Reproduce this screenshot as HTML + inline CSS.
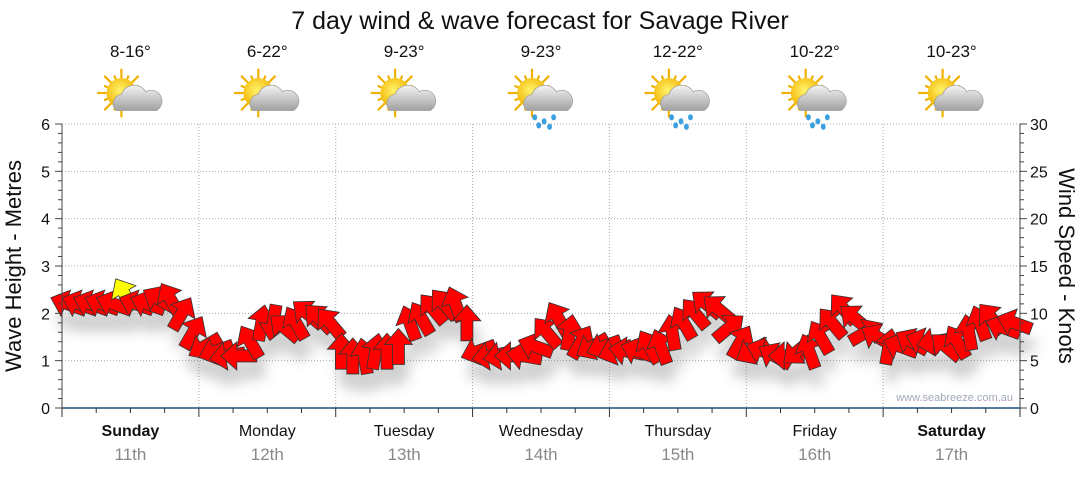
<!DOCTYPE html>
<html><head><meta charset="utf-8">
<style>
body{margin:0;background:#fff;width:1080px;height:475px;overflow:hidden;font-family:"Liberation Sans",sans-serif;}
svg text{font-family:"Liberation Sans",sans-serif;}
</style></head>
<body>
<svg id="chart" width="1080" height="475" viewBox="0 0 1080 475" xmlns="http://www.w3.org/2000/svg">
<defs>
<filter id="blur" x="-50%" y="-50%" width="200%" height="200%"><feGaussianBlur stdDeviation="6"/></filter>
<radialGradient id="sun" cx="0.45" cy="0.4" r="0.6"><stop offset="0" stop-color="#fff36b"/><stop offset="1" stop-color="#f2b300"/></radialGradient>
<linearGradient id="cloud" x1="0" y1="0" x2="0" y2="1"><stop offset="0" stop-color="#f4f4f4"/><stop offset="1" stop-color="#a0a0a0"/></linearGradient>
</defs>
<text x="540" y="29" text-anchor="middle" font-size="25" fill="#111">7 day wind &amp; wave forecast for Savage River</text>
<g id="grid"></g>
<g id="shadows" filter="url(#blur)" opacity="0.3"></g>
<g id="arrows"></g>
<g id="axes"></g>
<g id="header"></g>
<text transform="translate(21,266) rotate(-90)" text-anchor="middle" font-size="22" fill="#111">Wave Height - Metres</text>
<text transform="translate(1059,266) rotate(90)" text-anchor="middle" font-size="22" fill="#111">Wind Speed - Knots</text>
<text x="1013" y="401" text-anchor="end" font-size="11" fill="#a0a8b8">www.seabreeze.com.au</text>
</svg>
<script>
const days = ["Sunday","Monday","Tuesday","Wednesday","Thursday","Friday","Saturday"];
const dates = ["11th","12th","13th","14th","15th","16th","17th"];
const boldDays = [true,false,false,false,false,false,true];
const temps = ["8-16°","6-22°","9-23°","9-23°","12-22°","10-22°","10-23°"];
const rainy = [false,false,false,true,true,true,false];
const leftTicks = [0,1,2,3,4,5,6];
const rightTicks = [0,5,10,15,20,25,30];
const windSpeed = [
11,11,11,11,11,12,11,11,11.5,11.5,10,8,
6.5,6,5.5,5.5,7,9,9,8.5,9,10,9.5,9,
6,5.5,5.5,6,6,6.5,9,9.5,10.5,11,11,9,
6,5.5,5.5,5.5,5.5,6.5,8,9.5,8,7,6.5,6.5,
6,6,6,6.5,6.5,8,9,10,11,10.5,8.5,7,
6,6,5.5,5.5,6,6,7.5,9,10.5,9.5,8,7.5,
6.5,6.5,7,7,7,6.5,7,8,9,9.5,8.5,9];
const windDir = [
200,200,200,200,200,240,200,200,210,240,300,300,
150,160,170,180,240,280,100,220,240,220,225,230,
270,270,260,280,270,270,250,240,230,230,250,270,
160,170,170,180,190,200,230,240,280,300,150,160,
160,190,200,240,250,260,240,230,220,220,320,300,
150,200,210,180,140,250,240,230,230,220,330,210,
280,200,210,200,170,220,240,260,250,230,200,200];
const gustFlag = [5];

const NS="http://www.w3.org/2000/svg";
const X0=62,X1=1020,Y0=408,Y1=124;
const dayW=(X1-X0)/7;
const yL=v=>Y0-(v/6)*(Y0-Y1);
const yR=v=>Y0-(v/30)*(Y0-Y1);
const xT=i=>X0+(i+0.5)*dayW/12;
function mk(tag,attrs,parent){const e=document.createElementNS(NS,tag);for(const k in attrs)e.setAttribute(k,attrs[k]);parent.appendChild(e);return e;}
const grid=document.getElementById('grid'),axes=document.getElementById('axes'),hdr=document.getElementById('header');
leftTicks.forEach(v=>{if(v>0){const l=mk('line',{x1:X0,x2:X1,y1:yL(v),y2:yL(v),stroke:'#aaa','stroke-dasharray':'1,2'},grid);

}
const t=mk('text',{x:50,y:yL(v)+6,'text-anchor':'end','font-size':16,fill:'#111'},axes);t.textContent=v;

});
rightTicks.forEach(v=>{const t=mk('text',{x:1030,y:yR(v)+6,'font-size':16,fill:'#111'},axes);t.textContent=v;

});
for(let i=0;i<=30;i++){const y=Y0-i*(Y0-Y1)/30;mk('line',{x1:X0-(i%5?4:7),x2:X0,y1:y,y2:y,stroke:'#444'},axes);mk('line',{x1:X1,x2:X1+(i%5?4:7),y1:y,y2:y,stroke:'#444'},axes);}
mk('line',{x1:X0,x2:X0,y1:Y1,y2:Y0,stroke:'#444'},axes);
mk('line',{x1:X1,x2:X1,y1:Y1,y2:Y0,stroke:'#444'},axes);
mk('line',{x1:X0,x2:X1,y1:Y0,y2:Y0,stroke:'#1f4e79','stroke-width':1.5},axes);
for(let i=0;i<=28;i++){const x=X0+i*dayW/4;mk('line',{x1:x,x2:x,y1:Y0,y2:Y0+(i%4?5:9),stroke:'#333'},axes);}
days.forEach((d,i)=>{const cx=X0+(i+0.5)*dayW;
if(i>0){const g=mk('line',{x1:X0+i*dayW,x2:X0+i*dayW,y1:Y1,y2:Y0,stroke:'#aaa','stroke-dasharray':'1,2'},grid);

}
const t=mk('text',{x:cx,y:436,'text-anchor':'middle','font-size':16,fill:'#111','font-weight':boldDays[i]?'bold':'normal'},axes);t.textContent=d;


const t2=mk('text',{x:cx,y:460,'text-anchor':'middle','font-size':17,fill:'#888'},axes);t2.textContent=dates[i];


const t3=mk('text',{x:cx,y:57,'text-anchor':'middle','font-size':17,fill:'#111'},hdr);t3.textContent=temps[i];


const g=mk('g',{transform:`translate(${cx-9},93) scale(1.35)`},hdr);


for(let k=0;k<16;k++){const a=k*Math.PI/8;mk('line',{x1:Math.cos(a)*8,y1:Math.sin(a)*8,x2:Math.cos(a)*(k%2?14:18),y2:Math.sin(a)*(k%2?14:18),stroke:'#f0b000','stroke-width':1.6},g);}
mk('circle',{cx:0,cy:0,r:11,fill:'url(#sun)'},g);
mk('path',{d:'M-4 13 a7 7 0 0 1 4 -12 a10 10 0 0 1 18 -2 a8 8 0 0 1 8 14 z',fill:'url(#cloud)',stroke:'#999','stroke-width':0.5},g);
if(rainy[i]){[[2,18],[9,21],[16,18],[5,24],[13,25]].forEach(p=>mk('ellipse',{cx:p[0],cy:p[1],rx:1.8,ry:2.3,fill:'#3aa0e0'},g));}
});
const arrows=document.getElementById('arrows'),sh=document.getElementById('shadows');
const shape='M18 0 L2 -14 L2 -6 L-18 -6 L-18 6 L2 6 L2 14 Z';
windSpeed.forEach((v,i)=>{const x=xT(i),y=yR(v),r=windDir[i];
mk('path',{d:shape,transform:`translate(${x+4},${y+18}) rotate(${r})`,fill:'#666'},sh);
const a=mk('path',{d:shape,transform:`translate(${x},${y}) rotate(${r})`,fill:gustFlag.includes(i)?'#ffff00':'#ff0000',stroke:'#333','stroke-width':0.8},arrows);

});
</script>
</body></html>
